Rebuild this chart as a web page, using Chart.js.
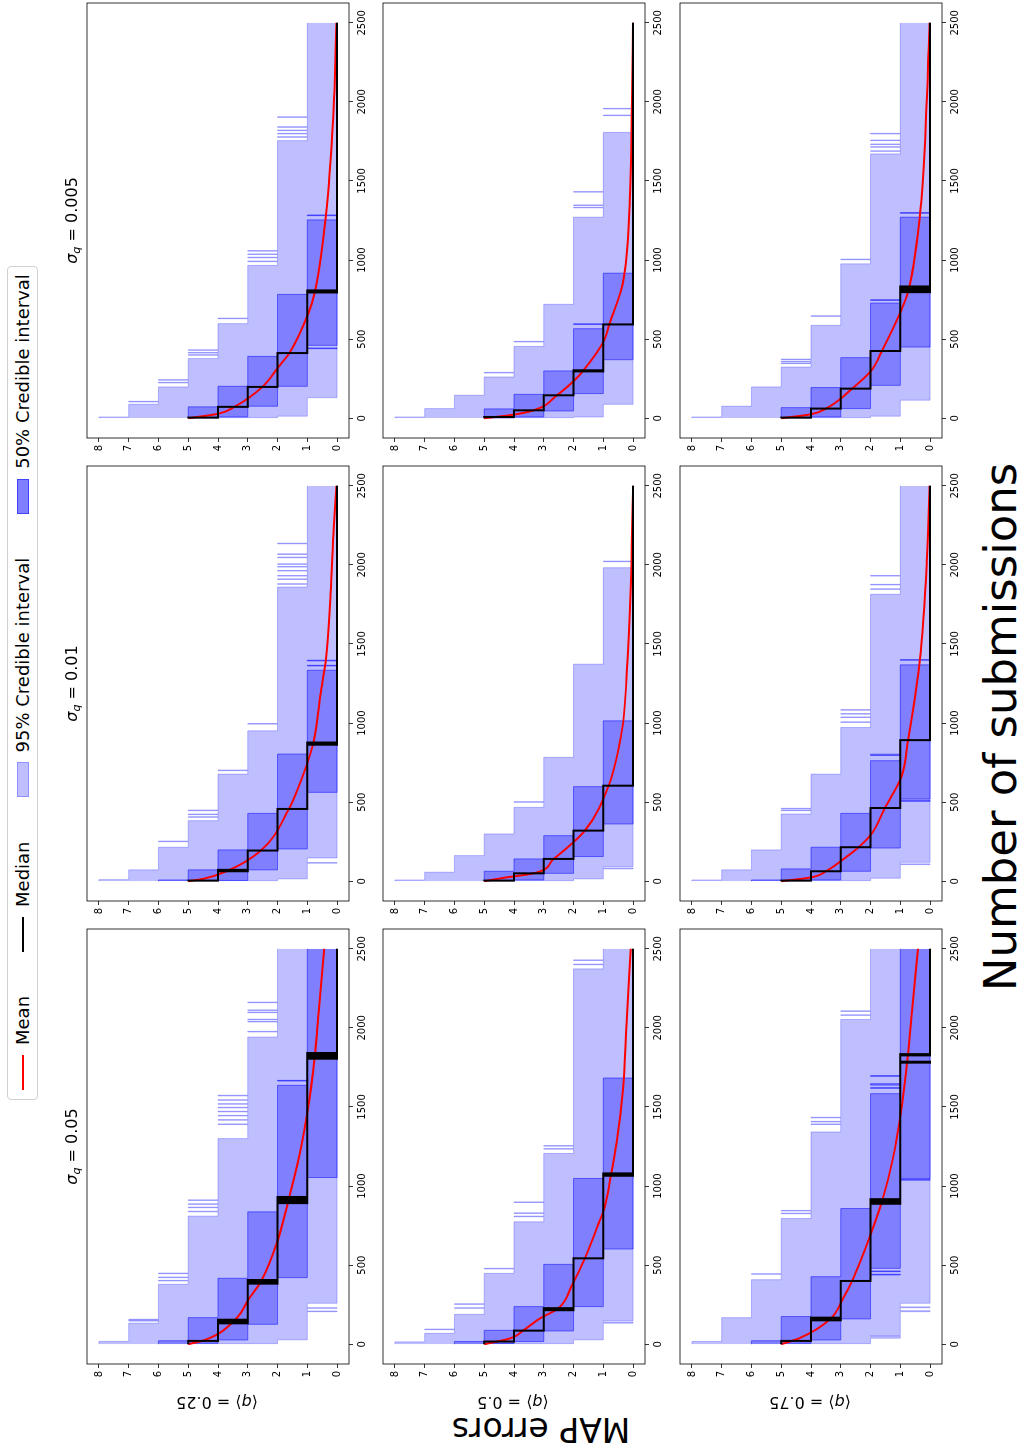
<!DOCTYPE html>
<html>
<head>
<meta charset="utf-8">
<script src="https://cdn.jsdelivr.net/npm/chart.js@4.4.0/dist/chart.umd.min.js"></script>
<style>
  html, body { margin: 0; padding: 0; background: #fff; }
  body { width: 1021px; height: 1444px; overflow: hidden; position: relative; font-family: "DejaVu Sans", sans-serif; color: #000; }
  /* the figure is laid out landscape, then turned a quarter to the left */
  #fig { position: absolute; left: 0; top: 0; width: 1444px; height: 1021px; transform-origin: 0 0; transform: translateY(1444px) rotate(-90deg); }
  .panel { position: absolute; }
  .col-title { position: absolute; font-size: 16px; line-height: 1; white-space: nowrap; transform: translate(-50%, -50%); }
  .row-label { position: absolute; font-size: 16px; line-height: 1; white-space: nowrap; transform: translate(-50%, -50%) rotate(-90deg); }
  sub { font-size: 0.7em; line-height: 0; vertical-align: -0.3em; }
  #supx { position: absolute; left: 717px; top: 1000px; font-size: 45px; line-height: 1; white-space: nowrap; transform: translate(-50%, -50%); }
  #supy { position: absolute; left: 15px; top: 541px; font-size: 33px; line-height: 1; white-space: nowrap; transform: translate(-50%, -50%) rotate(-90deg); }
  #legend { position: absolute; left: 344px; top: 7px; height: 31px; box-sizing: border-box; border: 1px solid #d0d0d0; border-radius: 4px;
            display: flex; align-items: center; padding: 0 7px 0 9px; font-size: 18px; background: rgba(255,255,255,0.8); }
  .hl { display: inline-block; width: 35px; height: 2px; margin-right: 10px; }
  .hp { display: inline-block; width: 35px; height: 12px; box-sizing: border-box; border: 1px solid; margin-right: 10px; }
  .lt { line-height: 1; margin-right: 44px; white-space: nowrap; }
  .lt.last { margin-right: 0; }
</style>
</head>
<body>
<div id="fig">
  <div id="legend">
    <span class="hl" style="background:#ff0000"></span><span class="lt">Mean</span>
    <span class="hl" style="background:#000"></span><span class="lt">Median</span>
    <span class="hp" style="background:#bfbfff;border-color:#8f8fff"></span><span class="lt">95% Credible interval</span>
    <span class="hp" style="background:#8080ff;border-color:#4040ff"></span><span class="lt last">50% Credible interval</span>
  </div>
  <div id="supx">Number of submissions</div>
  <div id="supy">MAP errors</div>
</div>
<script>
const xTicks = [0, 500, 1000, 1500, 2000, 2500];
const yTicks = [0, 1, 2, 3, 4, 5, 6, 7, 8];
const sigmaLabels = ["0.05", "0.01", "0.005"];
const qLabels = ["0.25", "0.5", "0.75"];
const lastSubmission = 2500;

// step curves: first value is the starting level, then one list per drop
// of one level; several x values in a list = the curve flickers there
// mean curves: [submissions, MAP errors]

// <q> = 0.25, sigma_q = 0.05
const hi95_q25_s05 = [8, [18], [133,146,150,155,158], [379,400,404,421,425,446,450], [810,837,841,863,867,884,888,909,913], [1300,1389,1393,1416,1420,1443,1447,1469,1473,1494,1498,1517,1521,1542,1546,1570,1574], [1942,1974,1978,2037,2041,2051,2055,2096,2100,2110,2114,2159,2163]];
const lo95_q25_s05 = [5, [4], [4], [4], [28], [206,210,227,231,259]];
const hi50_q25_s05 = [6, [22], [168], [417], [837], [1637,1664,1668]];
const lo50_q25_s05 = [5, [6], [27], [126], [421], [1054]];
const median_q25_s05 = [5, [21], [132,138,143,149,155], [383,389,395,401,406], [892,898,905,911,918,925,931], [1805,1811,1818,1824,1830,1836,1841]];
const mean_q25_s05 = [[0,5],[27,4.44],[154,3.43],[290,2.95],[396,2.56],[648,2.01],[922,1.62],[1174,1.29],[1490,0.98],[1805,0.76],[2121,0.61],[2500,0.43]];

// <q> = 0.5, sigma_q = 0.05
const hi95_q50_s05 = [8, [15], [69,92,96], [189,227,231,252,256], [448,476,480], [774,806,810,827,831,896,900], [1206,1233,1237,1252,1256], [2373,2399,2403,2426,2430]];
const lo95_q50_s05 = [5, [4], [4], [4], [28], [133,140,148]];
const hi50_q50_s05 = [6, [17], [88], [238], [505], [1048], [1683]];
const lo50_q50_s05 = [5, [5], [17], [84], [238], [602]];
const median_q50_s05 = [5, [17], [86], [215,222,228], [543], [1065,1072,1080]];
const mean_q50_s05 = [[0,5],[38,4.11],[90,3.67],[164,3.12],[227,2.51],[375,2.05],[543,1.62],[753,1.18],[858,0.97],[1069,0.74],[1279,0.55],[1595,0.35],[2016,0.22],[2500,0.08]];

// <q> = 0.75, sigma_q = 0.05
const hi95_q75_s05 = [8, [17], [168], [408,442,446], [795,825,829,842,846], [1342,1389,1393,1405,1409,1431,1435], [2053,2079,2083,2104,2108]];
const lo95_q75_s05 = [5, [4], [4], [4], [38,50,55], [206,212,231,236,259]];
const hi50_q75_s05 = [6, [22], [175], [427], [858], [1584,1618,1622,1638,1647,1694,1698]];
const lo50_q75_s05 = [5, [6], [27], [160], [438,442,459,463,480], [1037,1041,1048]];
const median_q75_s05 = [5, [21], [151,159,168], [400], [888,895,903,910,917], [1780,1786,1826,1830,1834]];
const mean_q75_s05 = [[0,5],[38,4.39],[160,3.35],[290,2.92],[400,2.62],[693,2.0],[900,1.62],[1174,1.25],[1469,0.98],[1805,0.76],[2121,0.6],[2500,0.41]];

// <q> = 0.25, sigma_q = 0.01
const hi95_q25_s01 = [8, [10], [72], [215,250,254], [383,404,408,421,425,446,450], [677,699,703], [951,993,997], [1860,1877,1881,1908,1912,1929,1933,1961,1965,1986,1990,2003,2007,2045,2049,2066,2070,2133,2137]];
const lo95_q25_s01 = [5, [4], [4], [4], [15], [114,118,147]];
const hi50_q25_s01 = [6, [8], [72], [198], [429], [804], [1334,1361,1365,1393,1397]];
const lo50_q25_s01 = [5, [3], [5], [72], [204], [562]];
const median_q25_s01 = [5, [4], [63,68,72], [194], [457], [863,870,877]];
const mean_q25_s01 = [[0,5],[15,4.5],[67,3.67],[194,2.56],[457,1.62],[593,1.3],[871,0.8],[1182,0.56],[1393,0.38],[1814,0.22],[2234,0.11],[2500,0.02]];

// <q> = 0.5, sigma_q = 0.01
const hi95_q50_s01 = [8, [8], [57], [162], [299], [467,499,503], [783], [1372], [1982,2020,2024]];
const lo95_q50_s01 = [5, [4], [4], [4], [15], [78,84,93]];
const hi50_q50_s01 = [5, [63], [141], [288], [598], [1014]];
const lo50_q50_s01 = [5, [3], [8], [50], [156], [362]];
const median_q50_s01 = [5, [4], [50], [141], [320], [604]];
const mean_q50_s01 = [[0,5],[20,4.4],[50,3.34],[141,2.67],[320,1.62],[604,0.82],[972,0.36],[1393,0.19],[1814,0.09],[2500,0.0]];

// <q> = 0.75, sigma_q = 0.01
const hi95_q75_s01 = [8, [8], [72], [198], [425,446,450,457,461], [677], [972,1004,1008,1035,1039,1056,1060,1081,1085], [1814,1845,1849,1873,1877,1929,1933]];
const lo95_q75_s01 = [5, [4], [4], [4], [19], [105,110,120]];
const hi50_q75_s01 = [6, [8], [78], [215], [429], [762,795,803], [1368,1397,1401]];
const lo50_q75_s01 = [5, [3], [8], [63], [210], [505,512,520]];
const median_q75_s01 = [5, [4], [63], [215], [463], [892]];
const mean_q75_s01 = [[0,5],[25,3.98],[63,3.5],[130,2.98],[215,2.4],[299,1.97],[463,1.52],[656,0.97],[892,0.74],[1393,0.35],[2024,0.11],[2500,0.02]];

// <q> = 0.25, sigma_q = 0.005
const hi95_q25_s005 = [8, [8], [88,103,107], [198,223,227,240,244], [377,398,402,412,416,429,433], [598,629,633], [966,990,994,1014,1018,1035,1039,1056,1060], [1755,1776,1780,1797,1801,1818,1822,1839,1843,1902,1906]];
const lo95_q25_s005 = [5, [4], [4], [4], [13], [130]];
const hi50_q25_s005 = [5, [72], [202], [391], [783], [1254,1281,1285]];
const lo50_q25_s005 = [5, [2], [8], [76], [202], [440,444,461]];
const median_q25_s005 = [5, [4], [72], [198], [412], [795,801,808]];
const mean_q25_s005 = [[0,5],[29,3.98],[72,3.45],[198,2.51],[324,1.97],[412,1.6],[661,0.97],[802,0.74],[1271,0.38],[1902,0.13],[2500,0.02]];

// <q> = 0.5, sigma_q = 0.005
const hi95_q50_s005 = [8, [8], [61], [145], [261,286,290], [454,482,486], [720], [1271,1330,1334,1345,1349,1429,1433], [1807,1913,1917,1955,1959]];
const lo95_q50_s005 = [5, [4], [4], [4], [8], [88]];
const hi50_q50_s005 = [5, [59], [151], [299], [566,593,597], [917]];
const lo50_q50_s005 = [5, [2], [8], [46], [156], [370]];
const median_q50_s005 = [5, [8], [50], [145], [296,299,303], [593]];
const mean_q50_s005 = [[0,5],[20,4.1],[50,3.34],[145,2.56],[240,1.97],[299,1.68],[492,0.97],[593,0.8],[850,0.35],[1376,0.11],[2007,0.04],[2500,0.0]];

// <q> = 0.75, sigma_q = 0.005
const hi95_q75_s005 = [8, [8], [76], [198], [324,345,349,356,360,370,374], [587,644,648], [976,1002,1006], [1671,1687,1691,1713,1717,1730,1734,1755,1759,1797,1801]];
const lo95_q75_s005 = [5, [4], [4], [4], [13], [114]];
const hi50_q75_s005 = [5, [67], [194], [383], [728,745,749], [1271,1296,1300]];
const lo50_q75_s005 = [5, [2], [8], [61], [208], [450]];
const median_q75_s005 = [5, [4], [61], [187], [425], [797,803,809,815,821,827,833]];
const mean_q75_s005 = [[0,5],[25,4.0],[61,3.5],[187,2.62],[303,1.97],[425,1.62],[682,0.97],[797,0.74],[1271,0.35],[2007,0.11],[2500,0.02]];

const panels = [
  { row: 0, col: 0, hi95: hi95_q25_s05, lo95: lo95_q25_s05, hi50: hi50_q25_s05, lo50: lo50_q25_s05, median: median_q25_s05, mean: mean_q25_s05 },
  { row: 0, col: 1, hi95: hi95_q25_s01, lo95: lo95_q25_s01, hi50: hi50_q25_s01, lo50: lo50_q25_s01, median: median_q25_s01, mean: mean_q25_s01 },
  { row: 0, col: 2, hi95: hi95_q25_s005, lo95: lo95_q25_s005, hi50: hi50_q25_s005, lo50: lo50_q25_s005, median: median_q25_s005, mean: mean_q25_s005 },
  { row: 1, col: 0, hi95: hi95_q50_s05, lo95: lo95_q50_s05, hi50: hi50_q50_s05, lo50: lo50_q50_s05, median: median_q50_s05, mean: mean_q50_s05 },
  { row: 1, col: 1, hi95: hi95_q50_s01, lo95: lo95_q50_s01, hi50: hi50_q50_s01, lo50: lo50_q50_s01, median: median_q50_s01, mean: mean_q50_s01 },
  { row: 1, col: 2, hi95: hi95_q50_s005, lo95: lo95_q50_s005, hi50: hi50_q50_s005, lo50: lo50_q50_s005, median: median_q50_s005, mean: mean_q50_s005 },
  { row: 2, col: 0, hi95: hi95_q75_s05, lo95: lo95_q75_s05, hi50: hi50_q75_s05, lo50: lo50_q75_s05, median: median_q75_s05, mean: mean_q75_s05 },
  { row: 2, col: 1, hi95: hi95_q75_s01, lo95: lo95_q75_s01, hi50: hi50_q75_s01, lo50: lo50_q75_s01, median: median_q75_s01, mean: mean_q75_s01 },
  { row: 2, col: 2, hi95: hi95_q75_s005, lo95: lo95_q75_s005, hi50: hi50_q75_s005, lo50: lo50_q75_s005, median: median_q75_s005, mean: mean_q75_s005 },
];

// layout of the landscape figure
const plotLeft = [80, 543, 1006];
const plotTop = [84, 380, 677];
const plotW = 435;
const plotH = 265;
const padL = 45, padT = 6, padR = 8, padB = 28;

const lightFill = "rgba(0,0,255,0.25)";
const lightEdge = "rgba(0,0,255,0.25)";
const darkFill = "rgba(0,0,255,0.33)";
const darkEdge = "rgba(0,0,255,0.5)";

Chart.defaults.font.family = '"DejaVu Sans", sans-serif';
Chart.defaults.color = "#000";

function stepPoints(curve) {
  let level = curve[0];
  const pts = [{ x: 0, y: level }];
  for (const flips of curve.slice(1)) {
    const next = level - 1;
    flips.forEach((x, i) => pts.push({ x: x, y: i % 2 === 0 ? next : level }));
    level = next;
  }
  pts.push({ x: lastSubmission, y: level });
  return pts;
}

const framePlugin = {
  id: "frame",
  afterDatasetsDraw(chart) {
    const { ctx, chartArea } = chart;
    ctx.save();
    ctx.strokeStyle = "#000";
    ctx.lineWidth = 0.8;
    ctx.strokeRect(chartArea.left, chartArea.top, chartArea.right - chartArea.left, chartArea.bottom - chartArea.top);
    ctx.restore();
  },
};

function axisOptions(ticksList, min, max, isX) {
  return {
    type: "linear",
    position: isX ? "bottom" : "left",
    min: min,
    max: max,
    afterBuildTicks: (scale) => {
      scale.ticks = ticksList.map((v) => ({ value: v }));
    },
    afterFit: (scale) => {
      if (isX) scale.height = padB;
      else scale.width = padL;
    },
    ticks: {
      font: { size: 10 },
      color: "#000",
      padding: 3,
      maxRotation: 0,
      autoSkip: false,
      callback: (v) => String(v),
    },
    grid: { drawOnChartArea: false, drawTicks: true, tickLength: 4, tickColor: "#000", tickWidth: 0.8 },
    border: { display: false },
  };
}

const fig = document.getElementById("fig");

for (const p of panels) {
  const canvas = document.createElement("canvas");
  canvas.className = "panel";
  canvas.width = padL + plotW + padR;
  canvas.height = padT + plotH + padB;
  canvas.style.left = plotLeft[p.col] - padL + "px";
  canvas.style.top = plotTop[p.row] - padT + "px";
  fig.appendChild(canvas);

  new Chart(canvas, {
    type: "line",
    data: {
      datasets: [
        { label: "Median", data: stepPoints(p.median), stepped: true, borderColor: "#000", borderWidth: 2, fill: false },
        { label: "Mean", data: p.mean.map(([x, y]) => ({ x, y })), borderColor: "#ff0000", borderWidth: 2, fill: false, cubicInterpolationMode: "monotone" },
        { label: "50% upper", data: stepPoints(p.hi50), stepped: true, borderColor: darkEdge, borderWidth: 1, backgroundColor: darkFill, fill: "+1" },
        { label: "50% lower", data: stepPoints(p.lo50), stepped: true, borderColor: darkEdge, borderWidth: 1, fill: false },
        { label: "95% upper", data: stepPoints(p.hi95), stepped: true, borderColor: lightEdge, borderWidth: 1, backgroundColor: lightFill, fill: "+1" },
        { label: "95% lower", data: stepPoints(p.lo95), stepped: true, borderColor: lightEdge, borderWidth: 1, fill: false },
      ],
    },
    options: {
      responsive: false,
      animation: false,
      devicePixelRatio: 1,
      events: [],
      layout: { padding: { left: 0, top: padT, right: padR, bottom: 0 } },
      elements: { point: { radius: 0 } },
      plugins: {
        legend: { display: false },
        tooltip: { enabled: false },
        filler: { propagate: false },
      },
      scales: {
        x: axisOptions(xTicks, -125, 2625, true),
        y: axisOptions(yTicks, -0.4, 8.4, false),
      },
    },
    plugins: [framePlugin],
  });
}

sigmaLabels.forEach((s, c) => {
  const el = document.createElement("div");
  el.className = "col-title";
  el.innerHTML = "<i>σ</i><sub><i>q</i></sub> = " + s;
  el.style.left = plotLeft[c] + plotW / 2 + "px";
  el.style.top = "72px";
  fig.appendChild(el);
});

qLabels.forEach((q, r) => {
  const el = document.createElement("div");
  el.className = "row-label";
  el.innerHTML = "⟨<i>q</i>⟩ = " + q;
  el.style.left = "42px";
  el.style.top = plotTop[r] + plotH / 2 + "px";
  fig.appendChild(el);
});
</script>
</body>
</html>
